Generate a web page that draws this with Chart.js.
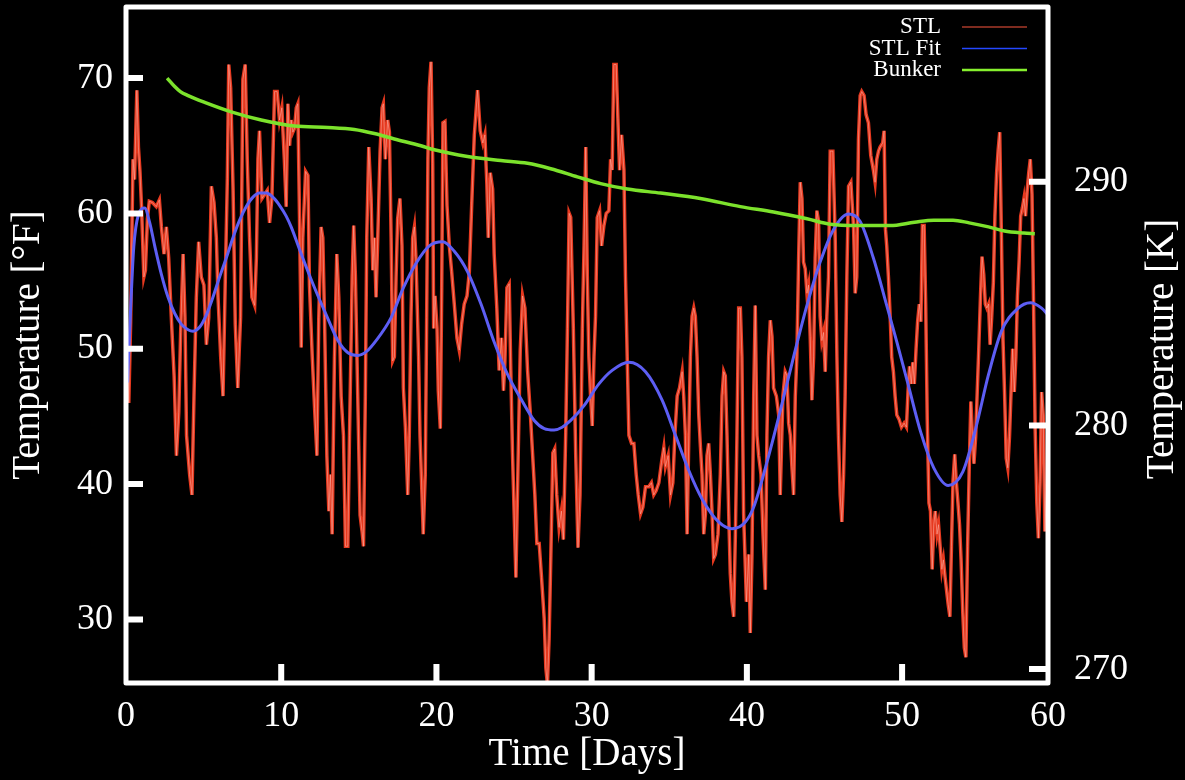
<!DOCTYPE html>
<html>
<head>
<meta charset="utf-8">
<title>Temperature</title>
<script src="https://cdn.jsdelivr.net/npm/chart.js@4.4.1/dist/chart.umd.min.js"></script>
<style>
  html, body { margin: 0; padding: 0; background: #000; }
  #wrap { width: 1185px; height: 780px; }
</style>
</head>
<body>
<div id="wrap"><canvas id="temps" width="1185" height="780"></canvas></div>
<script>
"use strict";

/* ---- Axis ranges and ticks ---- */
const dayTicks = [0, 10, 20, 30, 40, 50, 60];
const fTicks   = [30, 40, 50, 60, 70];
const kTicks   = [270, 280, 290];

const DAY_MAX = 59.4;
const F_MIN   = 25.3;
const F_MAX   = 75.25;

/* ---- STL surface temperature (°F) ---- */
const stlDays = [
  0.05, 0.18, 0.30, 0.45, 0.55, 0.70, 0.80, 0.90, 1.00, 1.15, 1.25, 1.38, 1.50, 1.70, 1.95, 2.15,
  2.28, 2.45, 2.60, 2.75, 2.92, 3.10, 3.25, 3.40, 3.52, 3.68, 3.80, 3.90, 4.10, 4.25, 4.38, 4.53,
  4.68, 4.85, 5.02, 5.18, 5.33, 5.50, 5.67, 5.82, 5.93, 6.10, 6.25, 6.40, 6.53, 6.62, 6.74, 6.90,
  7.04, 7.20, 7.38, 7.53, 7.68, 7.81, 7.96, 8.11, 8.29, 8.40, 8.50, 8.60, 8.76, 8.93, 9.10, 9.25,
  9.40, 9.57, 9.74, 9.89, 10.04, 10.20,
  10.32, 10.43, 10.54, 10.64, 10.75, 10.86, 10.97, 11.07, 11.18, 11.29, 11.39, 11.57, 11.72, 11.82,
  12.00, 12.15, 12.30, 12.42, 12.57, 12.68, 12.79, 12.94, 13.07, 13.17, 13.28, 13.43, 13.58, 13.71,
  13.86, 14.01, 14.14, 14.29, 14.40, 14.57, 14.67, 14.78, 14.93, 15.08, 15.21, 15.30, 15.42, 15.51,
  15.64, 15.79, 15.90, 16.00, 16.11, 16.22, 16.37, 16.50, 16.58, 16.71, 16.86, 16.97, 17.08, 17.18,
  17.29, 17.40, 17.50, 17.65, 17.78, 17.87, 18.00, 18.15, 18.25, 18.36, 18.47, 18.58, 18.68, 18.85,
  18.94, 19.07, 19.15, 19.28, 19.37, 19.45, 19.54, 19.65,
  19.76, 19.82, 19.91, 20.04, 20.12, 20.25, 20.34, 20.42, 20.55, 20.68, 20.83, 20.98, 21.15, 21.32,
  21.47, 21.62, 21.79, 21.97, 22.12, 22.27, 22.44, 22.65, 22.82, 22.99, 23.12, 23.25, 23.34, 23.47,
  23.62, 23.72, 23.89, 24.04, 24.19, 24.32, 24.41, 24.54, 24.69, 24.79, 24.90, 25.01, 25.12, 25.27,
  25.40, 25.55, 25.70, 25.87, 26.04, 26.19, 26.34, 26.47, 26.62, 26.77, 26.94, 27.05, 27.15, 27.26,
  27.37, 27.50, 27.62, 27.75, 27.90, 28.05, 28.18, 28.33, 28.44, 28.55, 28.65, 28.82, 28.97, 29.12,
  29.25, 29.40, 29.51, 29.62,
  29.72, 29.82, 29.93, 30.04, 30.15, 30.25, 30.36, 30.51, 30.64, 30.79, 30.94, 31.11, 31.22, 31.32,
  31.43, 31.58, 31.69, 31.80, 31.93, 32.08, 32.18, 32.29, 32.40, 32.57, 32.72, 32.87, 33.00, 33.15,
  33.30, 33.47, 33.68, 33.85, 34.00, 34.15, 34.33, 34.50, 34.65, 34.75, 34.93, 35.08, 35.23, 35.36,
  35.51, 35.66, 35.83, 35.93, 36.04, 36.15, 36.26, 36.36, 36.47, 36.58, 36.68, 36.79, 36.90, 37.01,
  37.11, 37.22, 37.33, 37.43, 37.54, 37.65, 37.76, 37.86, 37.97, 38.14, 38.29, 38.40, 38.51, 38.61,
  38.72, 38.83, 38.93, 39.04, 39.15, 39.26, 39.36, 39.47, 39.58, 39.68,
  39.79, 39.97, 40.12, 40.22, 40.33, 40.44, 40.54, 40.65, 40.76, 40.91, 41.04, 41.19, 41.29, 41.40,
  41.51, 41.62, 41.72, 41.90, 42.05, 42.15, 42.32, 42.47, 42.58, 42.69, 42.80, 42.90, 43.01, 43.12,
  43.22, 43.33, 43.44, 43.55, 43.65, 43.76, 43.87, 43.97, 44.08, 44.19, 44.30, 44.40, 44.51, 44.62,
  44.72, 44.83, 44.94, 45.05, 45.15, 45.26, 45.37, 45.54, 45.69, 45.80, 45.90, 46.01, 46.12, 46.23,
  46.33, 46.44, 46.55, 46.70, 46.87, 46.98, 47.08, 47.19, 47.30, 47.40, 47.55, 47.68, 47.83, 47.98,
  48.15, 48.26, 48.37, 48.48, 48.58, 48.75, 48.84, 48.93, 49.01, 49.12, 49.23, 49.33, 49.44, 49.55,
  49.66,
  49.80, 49.96, 50.13, 50.28, 50.38, 50.48, 50.59, 50.69, 50.79, 50.90, 51.00, 51.11, 51.21, 51.31,
  51.42, 51.52, 51.62, 51.73, 51.83, 51.94, 52.04, 52.14, 52.25, 52.35, 52.45, 52.56, 52.66, 52.77,
  52.87, 52.97, 53.08, 53.18, 53.28, 53.39, 53.49, 53.60, 53.70, 53.80, 53.91, 54.01, 54.11, 54.22,
  54.32, 54.43, 54.53, 54.63, 54.74, 54.84, 54.94, 55.05, 55.15, 55.26, 55.36, 55.46, 55.57, 55.67,
  55.77, 55.88, 55.98, 56.09, 56.19, 56.29, 56.40, 56.50, 56.60, 56.71, 56.81, 56.92, 57.02, 57.12,
  57.23, 57.33, 57.43, 57.54, 57.64, 57.75, 57.85, 57.95, 58.06, 58.16, 58.26, 58.37, 58.47, 58.57,
  58.68, 58.78, 58.89, 58.99, 59.09, 59.20, 59.32
];
const stlTemps = [
  50.5, 46.0, 52.0, 64.0, 62.5, 69.1, 64.9, 63.1, 60.5, 55.3, 55.8, 59.6, 60.9, 60.8, 60.5, 61.0,
  59.0, 57.0, 59.0, 56.7, 52.3, 48.0, 42.1, 45.3, 51.2, 57.0, 52.3, 43.6, 40.7, 39.2, 46.5, 53.8,
  57.9, 55.3, 54.7, 50.3, 52.3, 62.0, 60.8, 58.2, 53.8, 49.4, 46.5, 55.3, 62.6, 71.0, 69.3, 61.7,
  51.8, 47.1, 52.3, 69.9, 71.0, 64.0, 58.2, 53.8, 53.2, 56.7, 64.0, 66.1, 61.1, 61.4, 61.7, 59.3,
  61.1, 69.0, 69.0, 66.9, 67.8, 64.0,
  60.5, 68.1, 65.0, 66.9, 66.0, 66.3, 67.8, 68.1, 59.6, 50.1, 58.2, 63.1, 62.8, 54.7,
  49.4, 45.6, 42.1, 52.3, 59.0, 58.2, 52.3, 42.1, 38.0, 40.7, 36.3, 49.4, 57.0, 53.8,
  46.5, 43.6, 35.4, 35.4, 43.6, 55.3, 59.1, 55.3, 46.5, 37.7, 36.5, 35.4, 46.5, 58.2,
  64.9, 61.1, 55.8, 58.2, 53.8, 58.2, 64.6, 67.8, 68.1, 64.0, 66.9, 66.0, 58.2, 49.1,
  49.4, 55.3, 59.6, 61.1, 57.6, 47.1, 44.2, 39.2, 43.6, 52.3, 58.2, 59.0, 56.7, 49.4,
  43.6, 39.2, 36.3, 40.7, 52.3, 64.0, 69.3, 71.2,
  63.7, 51.5, 53.9, 51.5, 46.9, 44.1, 54.5, 66.7, 66.8, 60.6, 57.6, 55.7, 53.3, 50.8,
  49.9, 51.8, 53.3, 53.9, 55.7, 60.6, 65.8, 69.1, 66.1, 65.2, 65.8, 62.1, 58.2, 63.0,
  61.8, 57.0, 53.0, 48.4, 50.8, 46.9, 49.0, 54.5, 54.8, 48.4, 42.3, 37.7, 33.1, 42.3,
  49.9, 53.9, 53.0, 48.4, 45.4, 42.3, 39.2, 35.6, 35.6, 33.1, 30.1, 26.4, 25.2, 28.6,
  34.7, 42.3, 42.6, 39.2, 36.8, 38.0, 35.9, 43.8, 51.5, 60.0, 59.7, 51.5, 42.3, 35.3,
  39.2, 51.5, 57.6, 64.9,
  55.3, 49.4, 46.5, 44.3, 49.4, 52.4, 59.7, 60.2, 57.6, 59.1, 60.0, 60.2, 64.0, 63.2,
  71.0, 71.0, 67.0, 63.2, 65.8, 63.2, 55.3, 49.4, 43.6, 43.0, 43.0, 40.7, 39.2, 37.8,
  38.3, 39.8, 39.8, 40.1, 39.2, 39.5, 40.1, 41.6, 42.7, 41.3, 42.1, 39.2, 40.1, 43.6,
  46.5, 47.1, 48.3, 46.5, 43.6, 36.3, 43.6, 49.4, 52.4, 53.0, 52.4, 49.4, 45.1, 42.7,
  40.7, 36.3, 37.8, 42.1, 43.0, 40.7, 37.8, 34.5, 34.8, 36.3, 40.7, 46.5, 48.3, 48.0,
  43.6, 37.8, 33.4, 31.3, 30.2, 36.3, 43.6, 53.0, 53.0, 49.4,
  37.8, 31.3, 34.8, 29.0, 34.8, 46.5, 53.2, 43.6, 42.1, 40.7, 36.3, 32.2, 43.6, 49.4,
  52.1, 50.9, 47.1, 46.5, 45.1, 39.2, 46.5, 48.3, 48.0, 44.5, 43.6, 41.3, 39.2, 46.5,
  49.4, 56.4, 62.3, 61.1, 56.4, 55.9, 54.1, 54.7, 50.9, 46.2, 49.4, 56.7, 60.2, 59.4,
  52.4, 50.6, 51.2, 48.3, 52.4, 55.3, 64.6, 64.6, 58.2, 49.4, 43.6, 39.2, 37.2, 40.7,
  46.5, 55.3, 62.0, 62.3, 59.1, 54.1, 55.3, 65.5, 68.7, 69.0, 68.7, 67.3, 66.7, 64.3,
  63.2, 62.3, 64.0, 64.6, 64.9, 65.2, 66.1, 58.8, 57.6, 55.3, 52.4, 49.4, 48.3, 46.5,
  45.1,
  44.8, 44.2, 44.5, 44.2, 46.8, 48.7, 47.4, 49.0, 47.4, 50.0, 52.0, 53.3, 52.0, 59.1,
  59.1, 53.3, 44.8, 38.6, 38.0, 33.7, 37.0, 38.0, 36.3, 37.0, 35.4, 33.7, 34.4, 33.1,
  32.1, 31.1, 30.2, 35.4, 40.2, 42.2, 40.2, 38.6, 37.0, 34.4, 30.5, 27.9, 27.2, 35.4,
  40.9, 46.1, 43.5, 41.5, 43.5, 46.8, 50.0, 53.9, 56.8, 55.5, 53.3, 53.0, 53.3, 50.3,
  52.3, 54.9, 59.8, 63.0, 64.7, 66.0, 58.2, 50.7, 46.8, 41.9, 41.2, 43.5, 46.8, 50.0,
  46.8, 49.4, 53.9, 56.5, 59.8, 60.4, 61.1, 59.8, 61.7, 63.0, 64.0, 61.4, 53.3, 44.2,
  38.6, 36.0, 40.2, 46.8, 45.1, 36.5, 40.0
];

/* ---- STL fit (°F) ---- */
const fitDays = [
  0.10, 0.30, 0.50, 0.80, 1.20, 1.53, 1.85, 2.28, 2.71, 3.14, 3.57, 4.00, 4.32, 4.75, 5.18, 5.60,
  6.03, 6.46, 6.89, 7.32, 7.75, 8.18, 8.60, 9.03, 9.46, 9.89, 10.32, 10.64, 11.29, 12.04, 12.90,
  13.65, 14.30, 14.93, 15.50, 16.11, 17.08, 17.83, 18.68, 19.54, 20.40, 21.15, 22.00, 22.87, 23.72,
  24.58, 25.44, 26.30, 26.95, 27.58, 28.10, 28.65, 29.51, 30.47, 31.32, 32.40, 33.47, 34.54, 35.40,
  36.26, 37.11, 38.18, 39.04, 39.90, 40.44, 41.29, 42.15, 43.01, 43.87, 44.72, 45.58, 46.55, 47.30,
  48.15, 49.01, 49.66, 50.38, 51.21, 52.04, 52.97, 53.91, 54.74, 55.57, 56.40, 57.43, 58.26, 58.99,
  59.40
];
const fitTemps = [
  47.5, 53.0, 57.5, 59.9, 60.4, 59.3, 57.6, 55.5, 53.8, 52.6, 51.8, 51.4, 51.3, 51.6, 52.5, 53.8,
  55.3, 56.7, 58.2, 59.5, 60.5, 61.2, 61.5, 61.5, 61.2, 60.6, 59.8, 59.0, 57.0, 54.8, 52.5,
  50.6, 49.7, 49.5, 49.8, 50.6, 52.3, 54.4, 56.3, 57.6, 57.9, 57.2, 55.7, 53.3, 50.5,
  48.1, 46.3, 44.7, 44.1, 44.0, 44.2, 44.7, 45.8, 47.4, 48.4, 49.0, 48.3, 46.2, 43.6,
  41.0, 38.9, 37.2, 36.7, 37.2, 38.3, 41.6, 45.4, 49.4, 53.2, 56.4, 58.8, 59.95, 59.4,
  56.7, 53.2, 50.5, 47.4, 43.8, 41.2, 39.9, 40.9, 44.1, 48.1, 51.3, 52.95, 53.4, 53.0,
  52.5
];

/* ---- Bunker air temperature (°F) ---- */
const bunkerDays = [
  2.65, 3.12, 3.50, 4.00, 5.07, 6.78, 8.71, 10.86, 13.00, 14.71, 16.00, 17.29, 19.00, 19.86,
  22.00, 24.15, 25.87, 27.36, 29.08, 30.58, 32.30, 34.44, 37.00, 39.58, 41.72, 43.87, 45.37,
  47.08, 49.23, 50.80, 52.04, 53.28, 54.32, 55.57, 56.60, 57.85, 58.55
];
const bunkerTemps = [
  70.0, 69.4, 69.0, 68.7, 68.2, 67.5, 66.9, 66.45, 66.35, 66.2, 65.9, 65.5, 65.0, 64.7,
  64.2, 63.9, 63.7, 63.3, 62.7, 62.2, 61.8, 61.5, 61.1, 60.5, 60.1, 59.6, 59.2,
  59.1, 59.1, 59.35, 59.5, 59.5, 59.3, 59.0, 58.7, 58.55, 58.5
];

const fToK = f => (f - 32) * 5 / 9 + 273.15;
const pts  = (xs, ys) => xs.map((x, i) => ({ x, y: ys[i] }));

const SERIF = '"Liberation Serif", "DejaVu Serif", serif';
Chart.defaults.font.family = SERIF;
Chart.defaults.color = "#fff";

/* keep the plot box exactly where the scales say, no label overhang padding */
const noOverhang = s => {
  s.paddingTop = 0;
  s.paddingBottom = 0;
  s.paddingLeft = 0;
  s.paddingRight = 0;
};

/* ---- White box frame with inward tick marks ---- */
const frameTicks = {
  id: "frameTicks",
  afterDatasetsDraw(chart) {
    const { ctx, chartArea: a, scales } = chart;
    ctx.save();
    ctx.strokeStyle = "#fff";
    ctx.lineWidth = 6;
    ctx.lineCap = "butt";
    ctx.beginPath();
    scales.y.ticks.forEach(t => {
      const p = scales.y.getPixelForValue(t.value);
      ctx.moveTo(a.left, p);
      ctx.lineTo(a.left + 17, p);
    });
    scales.yK.ticks.forEach(t => {
      const p = scales.yK.getPixelForValue(t.value);
      ctx.moveTo(a.right, p);
      ctx.lineTo(a.right - 19, p);
    });
    scales.x.ticks.forEach(t => {
      const p = scales.x.getPixelForValue(t.value);
      if (p <= a.left + 2 || p >= a.right - 2) return;
      ctx.moveTo(p, a.bottom);
      ctx.lineTo(p, a.bottom - 19);
    });
    ctx.stroke();

    ctx.lineWidth = 5;
    ctx.lineJoin = "round";
    ctx.strokeRect(a.left, a.top, a.right - a.left, a.bottom - a.top);

    /* right-hand title, reading upward like the left one */
    ctx.fillStyle = "#fff";
    ctx.font = `39px ${SERIF}`;
    ctx.textAlign = "center";
    ctx.textBaseline = "middle";
    ctx.translate(1163, (a.top + a.bottom) / 2 + 4);
    ctx.rotate(-Math.PI / 2);
    ctx.fillText("Temperature [K]", 0, 0);
    ctx.restore();
  },
};

/* ---- Key in the top-right corner ---- */
const lineKey = {
  id: "lineKey",
  afterDraw(chart) {
    const { ctx } = chart;
    const items = chart.data.datasets.filter(ds => ds.keyColor);
    ctx.save();
    ctx.font = `23px ${SERIF}`;
    ctx.textAlign = "right";
    ctx.textBaseline = "middle";
    items.forEach((ds, i) => {
      const y = 26 + i * 21.5;
      ctx.fillStyle = "#fff";
      ctx.fillText(ds.label, 941, y + 1);
      ctx.strokeStyle = ds.keyColor;
      ctx.lineWidth = ds.keyWidth;
      ctx.beginPath();
      ctx.moveTo(962, y + 1);
      ctx.lineTo(1027, y + 1);
      ctx.stroke();
    });
    ctx.restore();
  },
};

new Chart(document.getElementById("temps"), {
  type: "line",
  data: {
    datasets: [
      {
        label: "STL",
        data: pts(stlDays, stlTemps),
        borderColor: "#e6391f",
        borderWidth: 3.5,
        keyColor: "#a83a2a",
        keyWidth: 1.5,
        order: 4,
      },
      {
        label: "STL Fit",
        data: pts(fitDays, fitTemps),
        borderColor: "#5d5ef4",
        borderWidth: 3,
        cubicInterpolationMode: "monotone",
        keyColor: "#2448ff",
        keyWidth: 1.5,
        order: 2,
      },
      {
        label: "Bunker",
        data: pts(bunkerDays, bunkerTemps),
        borderColor: "#7ce22c",
        borderWidth: 3.5,
        cubicInterpolationMode: "monotone",
        keyColor: "#86f02e",
        keyWidth: 2.5,
        order: 1,
      },
      {
        /* pale core over the STL trace */
        label: "STL core",
        data: pts(stlDays, stlTemps),
        borderColor: "rgba(255,190,180,0.5)",
        borderWidth: 1,
        order: 3,
      },
    ],
  },
  options: {
    responsive: false,
    animation: false,
    events: [],
    elements: { point: { radius: 0 }, line: { tension: 0 } },
    layout: { padding: { top: 7, left: 0, right: 0, bottom: 0 } },
    plugins: { legend: { display: false }, tooltip: { enabled: false } },
    scales: {
      x: {
        type: "linear",
        min: 0,
        max: DAY_MAX,
        grid: { display: false, drawTicks: false },
        border: { display: false },
        afterBuildTicks: s => { s.ticks = dayTicks.map(v => ({ value: Math.min(v, DAY_MAX) })); },
        afterFit: s => { s.height = 97; noOverhang(s); },
        ticks: {
          color: "#fff",
          font: { size: 36 },
          padding: 12,
          maxRotation: 0,
          autoSkip: false,
          callback: (v, i) => dayTicks[i],
        },
        title: {
          display: true,
          text: "Time [Days]",
          color: "#fff",
          font: { size: 39 },
          padding: { top: 0, bottom: 2 },
        },
      },
      y: {
        position: "left",
        min: F_MIN,
        max: F_MAX,
        grid: { display: false, drawTicks: false },
        border: { display: false },
        afterBuildTicks: s => { s.ticks = fTicks.map(v => ({ value: v })); },
        afterFit: s => { s.width = 126; noOverhang(s); },
        ticks: { color: "#fff", font: { size: 36 }, padding: 13 },
        title: {
          display: true,
          text: "Temperature [°F]",
          color: "#fff",
          font: { size: 39 },
          padding: { top: 5, bottom: 0 },
        },
      },
      yK: {
        position: "right",
        min: fToK(F_MIN),
        max: fToK(F_MAX),
        grid: { display: false, drawTicks: false },
        border: { display: false },
        afterBuildTicks: s => { s.ticks = kTicks.map(v => ({ value: v })); },
        afterFit: s => { s.width = 137; noOverhang(s); },
        ticks: { color: "#fff", font: { size: 36 }, padding: 26 },
      },
    },
  },
  plugins: [frameTicks, lineKey],
});
</script>
</body>
</html>
